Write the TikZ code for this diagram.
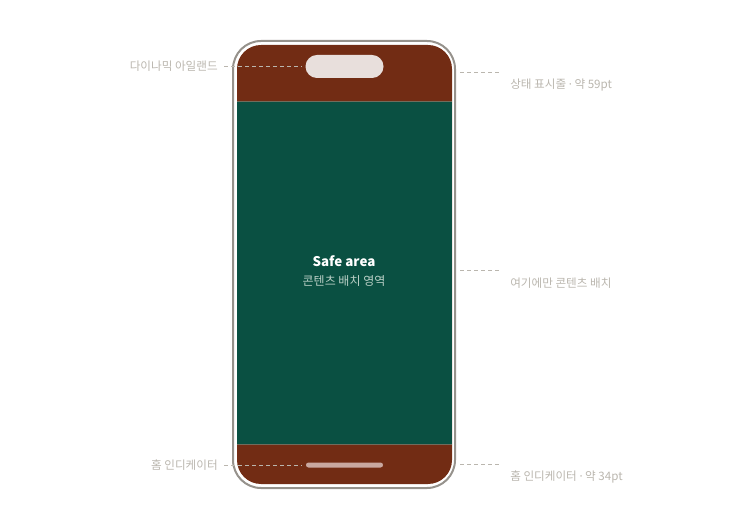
\documentclass[tikz,border=0pt]{standalone}
\usepackage{fontspec}
\usetikzlibrary{positioning,calc}
\newfontfamily\krfont{Noto Sans CJK KR}
\newfontfamily\dotfont{Noto Sans}
\newfontfamily\codefont{Liberation Mono}
\newcommand{\middot}{{\dotfont ·}}

\begin{document}
\begin{tikzpicture}[x=0.75pt,y=-0.75pt]
	\definecolor{bandbrown}{RGB}{114,44,20}
	\definecolor{safegreen}{RGB}{10,80,66}
	\definecolor{framegray}{RGB}{150,146,140}
	\definecolor{notegray}{RGB}{186,182,174}
	\definecolor{islandpink}{RGB}{232,223,220}
	\definecolor{homepink}{RGB}{201,168,160}
	\definecolor{subgreen}{RGB}{186,208,198}
	\definecolor{seamgray}{RGB}{112,108,92}
	\tikzset{
		note/.style={
			font=\krfont\fontsize{8.7}{11}\selectfont,
			text=notegray, inner sep=0pt
		},
		codenote/.style={
			font=\codefont\fontsize{8.5}{10}\selectfont,
			text=white, inner sep=0pt, anchor=west
		},
		guide/.style={
			draw=notegray, line width=0.75pt,
			dash pattern=on 3pt off 2.25pt
		},
		pill/.style={
			inner sep=0pt, outer sep=0pt, draw=none
		}
	}
	
	\useasboundingbox (0,0) rectangle (750,520);
	
	% ======= Phone frame and screen =======
	\draw[framegray, line width=1.5pt, rounded corners=21pt] (233,41) rectangle (455,488);
	\fill[bandbrown, rounded corners=18pt] (237,45) rectangle (452,484);
	\fill[safegreen] (237,101) rectangle (452,444);
	\draw[seamgray, line width=0.6pt] (237,101) -- (452,101);
	\draw[seamgray, line width=0.6pt] (237,444) -- (452,444);
	
	\node[pill, fill=islandpink, minimum width=58.5pt, minimum height=17.25pt,
		rounded corners=8.6pt] (island) at (344.5,66.5) {};
	\node[pill, fill=homepink, minimum width=57.75pt, minimum height=3.75pt,
		rounded corners=1.85pt] (home) at (344.5,465) {};
	
	\node[font=\krfont\bfseries\fontsize{10}{12}\selectfont, text=white] (safe) at (344,261) {Safe area};
	\node[font=\krfont\fontsize{9}{11}\selectfont, text=subgreen] (safesub) at (344,281) {콘텐츠 배치 영역};
	
	% ======= Left notes =======
	\node[note, anchor=east] (lisland) at (218,66.5) {다이나믹 아일랜드};
	\node[note, anchor=east] (lhome) at (218,465) {홈 인디케이터};
	
	\draw[guide, shorten <=4.5pt, shorten >=3pt] (lisland.east) -- (island.west);
	\draw[guide, shorten <=4.5pt, shorten >=3pt] (lhome.east) -- (home.west);
	
	% ======= Right notes =======
	\coordinate (ftop) at (460,73);
	\coordinate (etop) at (500,73);
	\coordinate (fmid) at (460,271);
	\coordinate (emid) at (500,271);
	\coordinate (fbot) at (460,464);
	\coordinate (ebot) at (500,464);
	
	\draw[guide] (ftop) -- (etop);
	\draw[guide] (fmid) -- (emid);
	\draw[guide] (fbot) -- (ebot);
	
	\node[codenote] (ctop) at (510,64) {safe-area-inset-top};
	\node[note, anchor=west] (ntop) at (510,85) {상태 표시줄 \middot{} 약 59pt};
	
	\node[codenote] (cmid) at (510,262) {safe area};
	\node[note, anchor=west] (nmid) at (510,283) {여기에만 콘텐츠 배치};
	
	\node[codenote] (cbot) at (510,456) {safe-area-inset-bottom};
	\node[note, anchor=west] (nbot) at (510,477) {홈 인디케이터 \middot{} 약 34pt};
	
\end{tikzpicture}
\end{document}
